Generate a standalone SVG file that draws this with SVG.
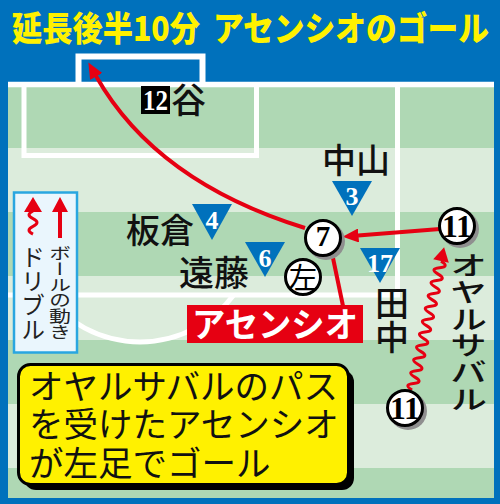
<svg xmlns="http://www.w3.org/2000/svg" width="500" height="504" viewBox="0 0 500 504">
<defs>
<style>
.jp{font-family:"Noto Sans CJK JP","Noto Sans CJK SC",sans-serif;}
.lbl{font-family:"Noto Sans CJK JP","Noto Sans CJK SC",sans-serif;font-size:34px;fill:#111;font-weight:500;}
.vt{writing-mode:vertical-rl;}
.num{font-family:"Liberation Serif",serif;font-weight:bold;text-anchor:middle;}
.wl{fill:none;stroke:#fff;stroke-width:5;}
.red{fill:none;stroke:#e60012;stroke-width:4;}
.tri{fill:#0071bc;}
.circ{fill:#fff;stroke:#000;stroke-width:3;}
.shd{fill:#8f8f8f;}
</style>
<marker id="ah" viewBox="0 -7 16 14" refX="0.5" refY="0" markerWidth="16" markerHeight="14" markerUnits="userSpaceOnUse" orient="auto">
<path d="M0,-7 L16,0 L0,7 z" fill="#e60012"/>
</marker>
</defs>

<!-- background -->
<rect x="0" y="0" width="500" height="504" fill="#0071bc"/>
<g id="field">
<rect x="8" y="84" width="486" height="414" fill="#dcecdc"/>
<rect x="8" y="84" width="486" height="64" fill="#afd8b4"/>
<rect x="8" y="212" width="486" height="64" fill="#afd8b4"/>
<rect x="8" y="340" width="486" height="64" fill="#afd8b4"/>
<rect x="8" y="468" width="486" height="30" fill="#afd8b4"/>
<line class="wl" x1="8" y1="84.5" x2="494" y2="84.5" style="stroke-width:5.5"/>
<path class="wl" d="M78.5,84 V56.5 H202.5 V84" style="stroke-width:6"/>
<path class="wl" d="M24,84 V155.5 H256.5 V84"/>
<path class="wl" d="M8,295 H397.5 V84"/>
<path class="wl" d="M46.3,295 A117,117 0 0 0 233.7,295"/>
</g>

<text id="title" class="jp" x="12" y="41" font-size="34" font-weight="900" fill="#fff100" textLength="188" lengthAdjust="spacingAndGlyphs">延長後半10分</text>
<text class="jp" x="213" y="41" font-size="34" font-weight="900" fill="#fff100" textLength="276" lengthAdjust="spacingAndGlyphs">アセンシオのゴール</text>

<g id="connectors">
<path class="red" d="M305,228 Q156,182 96,76" marker-end="url(#ah)"/>
<path class="red" d="M440,229 L358,235.5" marker-end="url(#ah)"/>
<path class="red" d="M333,258 L343,306"/>
<path fill="none" stroke="#e60012" stroke-width="3" transform="translate(412,390) rotate(-77.3)" d="M0,0 q3.3,-10 6.6,0 t6.6,0 t6.6,0 t6.6,0 t6.6,0 t6.6,0 t6.6,0 t6.6,0 t6.6,0 t6.6,0 t6.6,0 t6.6,0 t6.6,0 t6.6,0 t6.6,0 t6.6,0 t6.6,0 t6.6,0 t6.6,0 t6.6,0"/>
<polygon points="444.1,247.3 448.8,262.8 433.2,259.2" fill="#e60012"/>
</g>

<g id="legend">
<rect x="14" y="192.5" width="63" height="160" fill="#eaf6fd" stroke="#29a6e0" stroke-width="2.5"/>
<polygon points="33,197 24,212 42,212" fill="#e60012"/>
<path d="M33,211 q-8,3.85 0,7.7 t0,7.7 t0,7.7" fill="none" stroke="#e60012" stroke-width="3"/>
<polygon points="60,197 52,212 68,212" fill="#e60012"/>
<line x1="60" y1="210" x2="60" y2="238" stroke="#e60012" stroke-width="4"/>
<text class="jp vt" x="33" y="245" font-size="24" fill="#222">ドリブル</text>
<g transform="translate(60,245) scale(1,0.72)"><text class="jp vt" x="0" y="0" font-size="22" fill="#222">ボールの動き</text></g>
</g>

<g id="keeper-tani">
<rect x="141" y="86" width="29" height="28" fill="#000"/>
<text class="num" x="155.5" y="110" font-size="30" fill="#fff" textLength="25" lengthAdjust="spacingAndGlyphs">12</text>
<text class="lbl" x="171" y="113" font-size="35" style="font-size:35px">谷</text>
</g>

<g id="nakayama">
<text class="lbl" x="322" y="172.5">中山</text>
<polygon class="tri" points="332,181 372,181 352,216"/>
<text class="num" x="352" y="205" font-size="26" fill="#fff">3</text>
</g>

<g id="itakura">
<text class="lbl" x="126" y="242.5">板倉</text>
<polygon class="tri" points="192,204 232,204 212,240"/>
<text class="num" x="212" y="229" font-size="26" fill="#fff">4</text>
</g>

<g id="endo">
<text class="lbl" x="179" y="285.5" style="font-size:35px">遠藤</text>
<polygon class="tri" points="245,242 285,242 265,277"/>
<text class="num" x="265" y="267" font-size="26" fill="#fff">6</text>
</g>

<g id="tanaka">
<polygon class="tri" points="360,248 400,248 380,283"/>
<text class="num" x="380" y="272" font-size="26" fill="#fff" textLength="26" lengthAdjust="spacingAndGlyphs">17</text>
<text class="lbl vt" x="392" y="286">田中</text>
</g>

<g id="asensio7">
<circle class="shd" cx="326" cy="241" r="19"/>
<circle class="circ" cx="323" cy="238" r="17.5"/>
<text class="num" x="323" y="245.5" font-size="29">7</text>
</g>

<g id="left-foot">
<circle class="circ" cx="303" cy="277" r="17.5"/>
<text class="jp" x="303" y="289" font-size="29" text-anchor="middle" fill="#000">左</text>
</g>

<g id="asensio-label">
<rect x="187" y="305" width="176" height="38" fill="#e60012"/>
<text class="jp" x="192" y="337" font-size="34" font-weight="bold" fill="#fff" textLength="166" lengthAdjust="spacingAndGlyphs">アセンシオ</text>
</g>

<g id="oyarzabal-top">
<circle class="shd" cx="460" cy="229" r="19"/>
<circle class="circ" cx="457" cy="226" r="17.5"/>
<text class="num" x="457" y="237" font-size="32" textLength="30" lengthAdjust="spacingAndGlyphs">11</text>
</g>

<g id="oyarzabal-bottom">
<circle class="shd" cx="408" cy="411" r="19"/>
<circle class="circ" cx="405" cy="408" r="17.5"/>
<text class="num" x="405" y="419" font-size="32" textLength="30" lengthAdjust="spacingAndGlyphs">11</text>
</g>

<g id="oyarzabal-name" transform="translate(468.5,252) scale(1,0.72)">
<text class="lbl vt" x="0" y="0" style="font-size:37px">オヤルサバル</text>
</g>

<g id="caption">
<rect x="24" y="370" width="330" height="120" rx="12" fill="#000"/>
<rect x="18.5" y="364.5" width="330" height="120" rx="12" fill="#fff100" stroke="#000" stroke-width="3"/>
<text class="jp" font-size="34.5" fill="#111">
<tspan x="29" y="399">オヤルサバルのパス</tspan>
<tspan x="29" y="437">を受けたアセンシオ</tspan>
<tspan x="29" y="476">が左足でゴール</tspan>
</text>
</g>
</svg>
